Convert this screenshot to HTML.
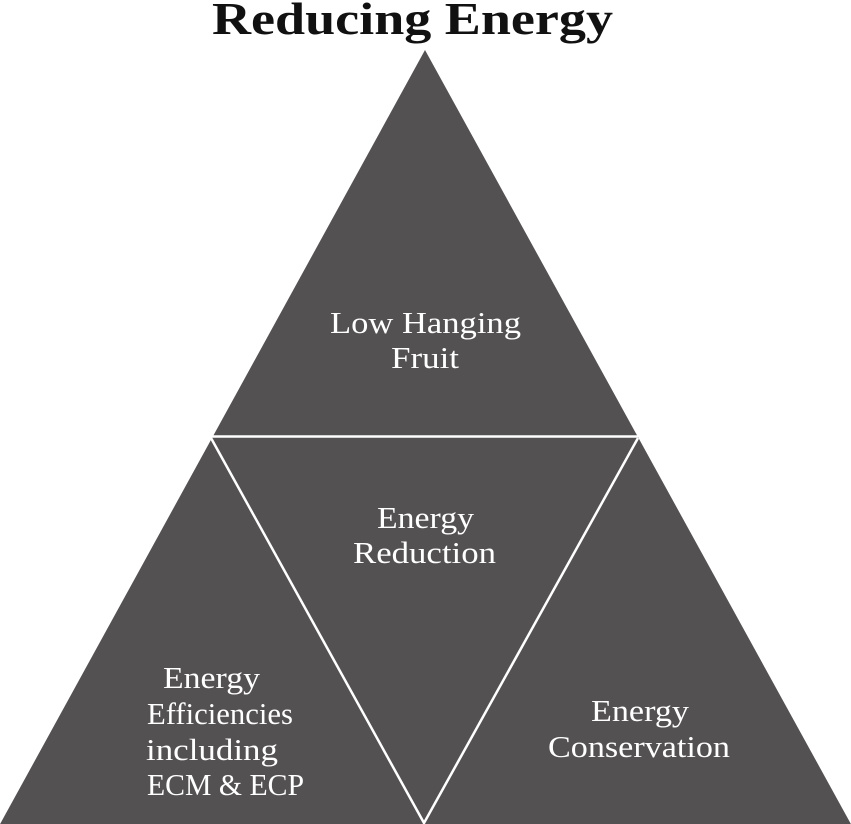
<!DOCTYPE html>
<html><head><meta charset="utf-8"><style>html,body{margin:0;padding:0;background:#fff}svg{display:block}</style></head>
<body>
<svg width="851" height="824" viewBox="0 0 851 824" xmlns="http://www.w3.org/2000/svg">
<polygon points="425,50 -1,826 852,826" fill="#545152"/>
<line x1="212" y1="436.5" x2="638" y2="436.5" stroke="#fff" stroke-width="2.5"/>
<polyline points="211,438 424,823 638,438" fill="none" stroke="#fff" stroke-width="2.5"/>
<text x="212" y="34" font-family="Liberation Serif, serif" font-weight="bold" font-size="46" textLength="401" lengthAdjust="spacingAndGlyphs" fill="#111">Reducing Energy</text>
<g font-family="Liberation Serif, serif" font-size="31" fill="#fff">
<text x="330" y="333" textLength="191" lengthAdjust="spacingAndGlyphs">Low Hanging</text>
<text x="391" y="368" textLength="68" lengthAdjust="spacingAndGlyphs">Fruit</text>
<text x="377" y="528" textLength="97" lengthAdjust="spacingAndGlyphs">Energy</text>
<text x="353" y="563" textLength="143" lengthAdjust="spacingAndGlyphs">Reduction</text>
<text x="163" y="688" textLength="97" lengthAdjust="spacingAndGlyphs">Energy</text>
<text x="147" y="724" textLength="146" lengthAdjust="spacingAndGlyphs">Efficiencies</text>
<text x="146" y="760" textLength="132" lengthAdjust="spacingAndGlyphs">including</text>
<text x="147" y="795" textLength="157" lengthAdjust="spacingAndGlyphs">ECM &amp; ECP</text>
<text x="591" y="721" textLength="98" lengthAdjust="spacingAndGlyphs">Energy</text>
<text x="548" y="757" textLength="182" lengthAdjust="spacingAndGlyphs">Conservation</text>
</g>
</svg>
</body></html>
